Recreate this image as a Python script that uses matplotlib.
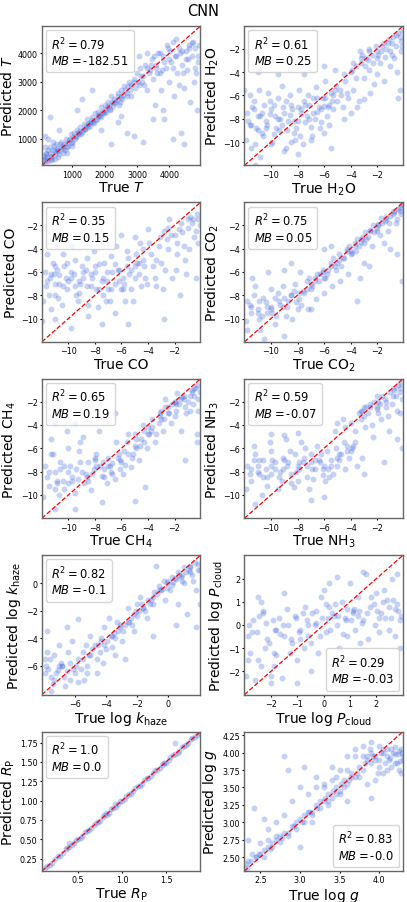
import matplotlib
matplotlib.use("Agg")
import matplotlib.pyplot as plt
from matplotlib.lines import Line2D

# ---------------- data ----------------
T_true = [150,200,250,300,350,400,450,500,550,600,650,700,750,800,850,900,950,1000,1050,1100,
          1150,1200,1250,1300,1350,1400,1450,1500,1550,1600,1650,1700,1750,1800,1850,1900,1950,2000,2050,2100,
          2150,2200,2250,2300,2400,2450,2500,2550,2600,2700,2750,2800,2900,2950,3000,3050,3100,3200,3250,3300,
          3400,3450,3500,3550,3600,3650,3700,3750,3800,3850,3900,3950,4000,4050,4100,4150,4200,4250,4300,4350,
          4400,4450,4500,4550,4600,4650,4700,4750,4800,4850,4900,
          300,150,1300,1600,2700,2900,3200,3500,4450,2200,2500,1900,3300,3050,3800,4100,2400,1150,600,250,
          120,200,350,450,550,700,150,400,850,1000,
          100,180,260,330,420,520,620,720,820,920,1020,1120,1220,1320,1420,1520,1620,1720,1820,1920,
          2020,2120,2220,2320,2420,2520,2620,2720,2820,2920,3020,3120,3220,3320,3420,3520,3620,3720,3820,3920,
          4020,4120,4220,4320,4420,4520,4620,4720,4820,4920,
          130,230,310,380,470,560,640,760,880,980,1080,1180,1280,1380,1480,1580,1680,1780,1880,1980,
          2080,2180,2280,2380,2480,2580,2680,2780,3150,3380,3580,3780,3980,4180,4380,4580,4780,4880,4700,4300]
T_pred = [300,500,200,700,400,600,300,800,550,450,900,650,800,1000,700,950,1150,900,1200,1050,
          1300,1150,1400,1250,1500,1350,1700,1500,1450,1750,1600,1900,1700,1950,1800,2100,1900,2200,1950,2300,
          2050,2500,2150,2400,2600,2200,2700,2400,2850,2600,3000,2500,3100,2800,3300,2900,3500,3200,3600,2700,
          3400,3800,3100,2200,3600,4000,3300,2700,3900,1700,3500,4200,3000,3700,4400,2500,3900,3300,4200,1200,
          3600,2800,4100,3400,4300,2300,3900,3000,4200,2000,3700,
          1750,1100,2400,2700,1200,1100,900,1700,800,800,1800,1300,4000,3900,2000,1000,1600,2000,1300,1000,
          150,350,250,550,350,500,700,900,500,750,
          250,450,600,350,750,650,800,700,850,1000,1050,1100,1250,1300,1450,1550,1650,1650,1850,1950,
          2000,2150,2300,2300,2500,2450,2700,2850,2900,3000,3000,3200,2900,3500,3600,3900,3300,4000,3700,4300,
          4100,3500,4500,4000,3300,3800,4200,4400,3300,4300,
          400,250,500,300,450,600,700,600,750,850,1000,1200,1150,1350,1400,1600,1550,1800,1750,1900,
          2100,2000,2250,2350,2300,2550,2500,2700,3000,3300,3500,3400,3800,3900,4100,3800,3500,3900,4350,2900]

H2O_true = [-11.8,-11.5,-11.3,-11.0,-10.8,-10.5,-10.3,-10.0,-9.8,-9.5,-9.3,-9.0,-8.8,-8.5,-8.3,-8.0,-7.8,-7.5,-7.3,-7.0,
            -6.8,-6.5,-6.3,-6.0,-5.8,-5.5,-5.3,-5.0,
            -11.9,-11.6,-11.2,-10.9,-10.6,-10.2,-9.9,-9.6,-9.2,-8.9,-8.6,-8.2,-7.9,-7.6,-7.2,-6.9,-6.6,-6.2,-5.9,-5.6,-5.2,
            -11.0,-9.5,-7.5,-10.8,-11.2,-8.0,-9.0,-5.5,-6.0,-5.2,-12.0,
            -4.8,-4.6,-4.4,-4.2,-4.0,-3.8,-3.6,-3.4,-3.2,-3.0,-2.8,-2.6,-2.4,-2.2,-2.0,-1.8,-1.6,-1.4,-1.2,-1.0,
            -0.8,-0.6,-0.4,-0.2,
            -4.5,-4.0,-3.5,-3.0,-2.5,-2.0,-1.5,-1.0,-0.5,-0.3,-0.7,-1.3,-1.9,-2.7,-3.3,-0.1,-0.2,-0.4,
            -11.7,-11.4,-11.1,-10.7,-10.4,-10.1,-9.7,-9.4,-9.1,-8.7,-8.4,-8.1,-7.7,-7.4,-7.1,-6.7,-6.4,-6.1,-5.7,-5.4,
            -5.1,-4.7,-4.3,-3.9,-3.6,-3.1,-2.9,-2.6,-2.3,-2.1,-1.7,-1.1,-0.9,-0.6,-0.15,-11.5,-10.0,-8.5,-7.0,-6.0,
            -11.6,-11.0,-10.4,-9.8,-9.2,-8.6,-8.0,-7.4,-6.8,-6.2,-5.6,-11.3,-10.7,-10.1,-9.5,-8.9,-8.3,-7.7,-7.1,-6.5,
            -5.9,-5.3,-4.5,-3.8,-3.2,-2.6,-2.0,-1.5,-0.9,-0.3]
H2O_pred = [-7.5,-8.5,-6.5,-9.0,-7.8,-6.8,-8.5,-7.2,-9.3,-6.2,-8.0,-7.5,-9.0,-6.8,-8.2,-7.0,-9.5,-6.5,-7.8,-8.7,
            -6.2,-7.4,-8.8,-6.9,-7.8,-5.8,-7.2,-6.5,
            -9.8,-6.0,-10.2,-5.5,-9.5,-5.8,-10.0,-8.8,-5.2,-10.5,-6.0,-9.8,-5.5,-10.2,-6.0,-9.5,-5.3,-8.3,-4.8,-8.5,-5.5,
            -4.0,-4.2,-4.2,-11.3,-12.0,-11.0,-10.8,-10.5,-3.5,-3.8,-5.5,
            -5.5,-7.0,-4.8,-6.2,-4.0,-5.5,-3.5,-6.5,-3.2,-4.5,-2.8,-3.8,-2.5,-5.0,-2.2,-3.2,-1.8,-2.7,-1.5,-2.2,
            -1.0,-1.8,-0.6,-1.3,
            -8.0,-7.5,-7.0,-6.3,-5.8,-4.2,-4.8,-3.5,-4.0,-5.5,-2.8,-2.0,-2.5,-3.0,-2.2,-0.5,-2.2,-6.2,
            -8.2,-7.0,-8.8,-7.5,-8.2,-6.5,-7.8,-9.0,-7.0,-8.2,-7.2,-8.8,-7.2,-8.3,-6.8,-8.0,-7.0,-6.2,-7.0,-6.5,
            -5.2,-6.0,-5.8,-3.8,-4.5,-2.5,-3.5,-2.2,-3.2,-1.8,-2.2,-1.2,-2.5,-0.8,-1.8,-10.5,-10.2,-10.0,-9.8,-9.2,
            -8.5,-7.8,-8.8,-6.8,-8.5,-7.7,-8.2,-6.8,-7.5,-7.2,-6.8,-7.2,-9.2,-7.6,-8.0,-6.5,-9.2,-7.5,-8.0,-6.2,
            -6.2,-6.0,-4.2,-3.2,-2.8,-2.0,-2.8,-1.5,-1.5,-1.0]

CO_true = [-11.8,-11.5,-11.2,-11.0,-10.7,-10.4,-10.1,-9.8,-9.5,-9.2,-8.9,-8.6,-8.3,-8.0,-7.7,-7.4,-7.1,-6.8,-6.5,-6.2,
           -5.9,-5.6,-5.3,-5.0,-4.7,-4.4,-4.1,
           -11.9,-11.6,-11.3,-10.9,-10.5,-10.2,-9.7,-9.3,-9.0,-8.5,-8.1,-7.8,-7.3,-6.9,-6.4,-6.0,-5.5,-5.1,-4.6,-4.2,
           -11.0,-9.8,-7.5,-5.5,-6.5,-8.5,-12.0,-4.0,-5.0,-2.8,-6.0,
           -3.8,-3.5,-3.2,-3.0,-2.8,-2.5,-2.2,-2.0,-1.8,-1.5,-1.2,-1.0,-0.8,-0.5,-0.3,-0.1,-3.4,-2.9,-2.4,-1.9,
           -1.4,-0.9,-0.4,-0.2,-1.6,-0.7,-2.6,-1.1,
           -11.7,-11.4,-11.1,-10.8,-10.3,-10.0,-9.6,-9.1,-8.7,-8.2,-7.9,-7.5,-7.2,-6.7,-6.3,-5.8,-5.4,-4.9,-4.5,-4.3,
           -3.9,-3.6,-3.1,-2.7,-2.3,-1.7,-1.3,-0.6,-0.2,-11.0,-9.4,-7.0,-5.7,-4.8,
           -11.6,-11.0,-10.4,-9.8,-9.2,-8.6,-8.0,-7.4,-6.8,-6.2,-5.6,-5.0,-4.4,-11.3,-10.7,-10.1,-9.5,-8.9,-8.3,-7.7,
           -7.1,-6.5,-5.9,-5.3,-4.7,-3.4,-2.5,-1.8,-1.0,-0.4]
CO_pred = [-6.0,-8.0,-5.2,-7.0,-6.3,-4.5,-7.5,-6.0,-5.0,-7.8,-6.5,-4.8,-7.2,-6.0,-5.3,-8.0,-6.8,-4.6,-7.0,-5.8,
           -6.5,-4.2,-7.5,-5.5,-6.2,-4.0,-7.0,
           -8.5,-4.5,-9.2,-5.8,-8.8,-6.5,-3.8,-8.5,-5.5,-8.8,-4.2,-9.0,-5.2,-8.5,-3.8,-7.5,-4.8,-8.5,-3.5,-6.5,
           -10.0,-10.8,-10.5,-10.5,-9.5,-9.8,-10.2,-2.3,-3.0,-10.0,-2.8,
           -4.5,-6.5,-3.8,-5.2,-2.5,-4.0,-6.5,-2.8,-3.5,-1.8,-5.0,-2.2,-1.3,-3.0,-1.0,-2.0,-7.2,-7.5,-1.5,-5.8,
           -2.6,-4.0,-6.5,-1.5,-8.0,-1.8,-3.2,-6.2,
           -7.2,-6.5,-6.2,-8.2,-5.5,-6.8,-6.2,-7.0,-5.8,-6.5,-7.5,-6.8,-8.5,-6.0,-5.8,-7.0,-6.2,-4.5,-7.2,-5.5,
           -3.5,-5.5,-3.0,-5.8,-2.8,-2.3,-3.8,-1.5,-3.5,-8.0,-8.0,-7.5,-8.5,-5.2,
           -6.8,-5.5,-7.2,-6.5,-6.8,-7.2,-5.5,-6.5,-7.5,-6.8,-5.5,-6.5,-5.0,-6.2,-7.0,-5.2,-7.2,-6.0,-6.2,-7.5,
           -6.0,-5.3,-7.5,-5.8,-5.2,-5.0,-2.2,-4.5,-1.5,-2.5]

CO2_true = [-11.8,-11.5,-11.2,-10.9,-10.6,-10.3,-10.0,-9.7,-9.4,-9.1,-8.8,-8.5,-8.2,-7.9,-7.6,-7.3,-7.0,-6.7,-6.4,-6.1,
            -5.8,-5.5,-5.2,-4.9,-4.6,-4.3,-4.0,-3.7,-3.4,-3.1,-2.8,-2.5,-2.2,-1.9,-1.6,-1.3,-1.0,-0.7,-0.4,-0.1,
            -11.9,-11.4,-10.8,-10.2,-9.6,-9.0,-8.4,-7.8,-7.2,-6.6,-6.0,-5.4,-4.8,-4.2,-3.6,-3.0,-2.4,-1.8,-1.2,-0.6,
            -0.2,-0.5,-1.5,-2.6,-3.3,
            -9.0,-10.5,-6.0,-5.5,-8.5,-3.5,-0.1,-1.0,-11.8,-7.0,
            -11.6,-11.0,-10.4,-9.9,-9.3,-8.7,-8.1,-7.5,-6.9,-6.3,-5.7,-5.1,-4.5,-3.9,-3.2,-2.7,-2.0,-1.4,-0.8,-0.3,
            -11.3,-10.7,-10.0,-9.5,-8.9,-8.3,-7.7,-7.1,-6.5,-5.9,-5.3,-4.7,-4.1,-3.5,-2.9,-2.3,-1.7,-1.1,-0.5,-0.15,
            -11.5,-10.9,-10.3,-9.7,-9.1,-8.5,-7.9,-7.3,-6.7,-6.1,-5.5,-4.9,-4.3,-3.7,-3.1,-2.5,-1.9,-1.3,-0.7,-0.25,
            -11.0,-10.0,-9.0,-8.0,-7.0,-6.0,-5.0,-4.0,-3.0,-2.0]
CO2_pred = [-8.5,-9.5,-7.2,-10.0,-8.2,-9.0,-7.5,-10.5,-8.5,-7.2,-9.0,-8.0,-7.0,-8.3,-7.6,-6.8,-7.5,-6.5,-6.8,-5.8,
            -6.2,-5.2,-5.5,-4.5,-4.8,-4.0,-4.2,-3.5,-3.8,-3.0,-3.2,-2.5,-2.6,-2.0,-1.8,-1.5,-1.2,-0.9,-0.6,-0.3,
            -10.2,-6.5,-11.0,-6.0,-9.8,-5.8,-10.0,-6.0,-9.2,-8.3,-7.8,-7.2,-6.8,-6.2,-4.2,-5.2,-3.8,-2.8,-2.5,-1.8,
            -1.0,-4.5,-3.5,-5.5,-6.5,
            -11.5,-11.8,-4.0,-3.8,-5.2,-8.5,-6.8,-4.0,-11.0,-9.2,
            -8.8,-9.2,-8.6,-9.5,-8.8,-8.5,-8.6,-7.8,-7.2,-6.2,-5.8,-5.8,-4.8,-4.4,-3.4,-3.0,-2.2,-1.6,-1.0,-0.5,
            -8.0,-9.8,-9.2,-7.8,-9.8,-7.6,-8.8,-6.5,-6.2,-6.5,-4.8,-5.5,-3.8,-3.2,-2.6,-2.0,-1.4,-1.8,-1.5,-0.2,
            -9.0,-8.5,-9.5,-8.2,-9.0,-8.0,-7.8,-7.5,-6.8,-6.0,-5.5,-5.0,-4.2,-3.8,-3.2,-2.4,-1.9,-1.3,-0.8,-0.8,
            -9.5,-9.0,-8.2,-9.2,-7.0,-6.5,-5.2,-4.5,-3.5,-2.5]

CH4_true = [-11.8,-11.5,-11.2,-10.9,-10.6,-10.3,-10.0,-9.7,-9.4,-9.1,-8.8,-8.5,-8.2,-7.9,-7.6,-7.3,-7.0,-6.7,-6.4,-6.1,
            -5.8,-5.5,-5.2,-4.9,-4.6,-4.3,-4.0,-3.7,-3.4,-3.1,-2.8,-2.5,-2.2,-1.9,-1.6,-1.3,-1.0,-0.7,-0.4,-0.1,
            -11.9,-11.3,-10.7,-10.1,-9.5,-8.9,-8.3,-7.7,-7.1,-6.5,-5.9,-5.3,-4.7,-4.1,-3.5,-2.9,-2.3,-1.7,-1.1,-0.5,
            -0.3,-0.8,-1.5,-2.0,-2.7,
            -11.0,-9.5,-7.5,-5.0,-11.0,-9.5,-6.5,-0.3,-1.2,-4.2,
            -11.6,-11.0,-10.4,-9.9,-9.3,-8.7,-8.1,-7.5,-6.9,-6.3,-5.7,-5.1,-4.5,-3.9,-3.2,-2.7,-2.0,-1.4,-0.8,-0.3,
            -11.3,-10.6,-10.0,-9.2,-8.6,-8.0,-7.4,-6.8,-6.2,-5.6,-5.0,-4.4,-3.8,-3.0,-2.4,-1.8,-1.2,-0.6,-0.2,-0.5,
            -11.5,-10.9,-10.3,-9.7,-9.1,-8.5,-7.9,-7.3,-6.7,-6.1,-5.5,-4.9,-4.3,-3.7,-3.1,-2.5,-1.9,-1.3,-0.7,-0.25,
            -11.0,-10.0,-9.0,-8.0,-7.0,-6.0,-5.0,-4.0,-3.0,-2.0]
CH4_pred = [-7.5,-9.2,-6.5,-8.8,-7.2,-9.5,-6.0,-8.5,-7.8,-5.5,-9.0,-7.2,-8.2,-6.5,-7.5,-8.5,-6.8,-7.3,-5.5,-7.8,
            -6.2,-4.8,-6.8,-5.2,-5.8,-4.5,-4.2,-3.5,-4.8,-3.0,-3.5,-2.5,-2.2,-2.8,-1.8,-1.5,-2.0,-1.2,-0.8,-1.2,
            -10.2,-5.2,-10.0,-4.5,-9.8,-5.0,-9.6,-4.5,-9.0,-8.6,-8.2,-7.6,-7.0,-6.0,-5.5,-4.5,-3.8,-2.2,-3.0,-1.5,
            -4.8,-2.8,-4.5,-3.2,-1.8,
            -11.2,-11.2,-10.6,-10.5,-3.8,-3.8,-3.0,-5.5,-7.0,-9.3,
            -8.5,-8.0,-8.8,-7.5,-8.6,-8.2,-7.8,-8.4,-7.5,-6.8,-7.4,-6.5,-5.2,-4.8,-3.8,-2.5,-2.0,-1.6,-1.5,-0.6,
            -6.5,-7.8,-9.0,-6.2,-8.5,-6.8,-7.2,-8.0,-6.5,-5.5,-4.8,-4.0,-4.5,-2.8,-3.0,-1.3,-2.5,-2.2,-2.8,-0.8,
            -8.0,-9.0,-7.5,-8.8,-7.2,-8.8,-7.5,-7.8,-8.2,-7.0,-6.5,-6.0,-5.5,-4.2,-3.2,-3.0,-2.2,-1.8,-1.0,-1.8,
            -9.5,-8.0,-8.0,-7.0,-7.5,-7.2,-5.8,-4.8,-3.5,-2.0]

NH3_true = [-11.8,-11.5,-11.2,-10.9,-10.6,-10.3,-10.0,-9.7,-9.4,-9.1,-8.8,-8.5,-8.2,-7.9,-7.6,-7.3,-7.0,-6.7,-6.4,-6.1,
            -5.8,-5.5,-5.2,-4.9,-4.6,-4.3,-4.0,-3.7,-3.4,-3.1,-2.8,-2.5,-2.2,-1.9,-1.6,-1.3,-1.0,-0.7,-0.4,-0.1,
            -11.9,-11.3,-10.7,-10.1,-9.5,-8.9,-8.3,-7.7,-7.1,-6.5,-5.9,-5.3,-4.7,-4.1,-3.5,-2.9,-2.3,-1.7,-1.1,-0.5,
            -0.3,-0.9,-2.0,-3.2,-4.4,
            -11.2,-10.0,-9.0,-8.0,-7.0,-6.0,-3.0,-1.5,-0.1,-5.0,
            -11.6,-11.0,-10.4,-9.9,-9.3,-8.7,-8.1,-7.5,-6.9,-6.3,-5.7,-5.1,-4.5,-3.9,-3.2,-2.7,-2.0,-1.4,-0.8,-0.3,
            -11.3,-10.6,-10.0,-9.2,-8.6,-8.0,-7.4,-6.8,-6.2,-5.6,-5.0,-4.4,-3.8,-3.0,-2.4,-1.8,-1.2,-0.6,-0.2,-0.5,
            -11.5,-10.9,-10.3,-9.7,-9.1,-8.5,-7.9,-7.3,-6.7,-6.1,-5.5,-4.9,-4.3,-3.7,-3.1,-2.5,-1.9,-1.3,-0.7,-0.25,
            -11.0,-10.0,-9.0,-8.0,-7.0,-6.0,-5.0,-4.0,-3.0,-2.0]
NH3_pred = [-7.5,-8.8,-6.5,-8.2,-7.0,-9.2,-6.2,-7.8,-8.5,-6.8,-7.5,-9.0,-6.5,-7.8,-7.2,-8.5,-6.5,-7.8,-7.0,-8.3,
            -6.2,-7.5,-4.5,-7.0,-3.5,-6.2,-3.8,-5.5,-3.0,-6.8,-2.5,-2.2,-2.0,-3.0,-1.5,-2.5,-1.2,-0.8,-0.6,-1.8,
            -9.5,-5.8,-10.0,-5.5,-9.5,-5.2,-9.3,-5.5,-9.5,-5.8,-8.8,-8.2,-6.5,-6.8,-7.5,-4.2,-5.0,-3.5,-4.5,-5.2,
            -3.0,-2.2,-1.5,-2.8,-7.8,
            -10.8,-4.8,-4.9,-4.7,-10.4,-10.2,-8.2,-7.2,-6.0,-3.8,
            -8.2,-7.5,-7.8,-7.0,-8.0,-7.2,-8.0,-6.8,-7.8,-7.2,-7.8,-6.0,-5.5,-6.0,-3.5,-3.0,-2.5,-1.8,-1.5,-0.8,
            -7.0,-8.5,-7.5,-8.8,-6.2,-8.8,-6.0,-8.6,-6.5,-8.5,-7.5,-4.2,-5.8,-2.5,-4.0,-2.2,-3.2,-1.5,-0.4,-2.8,
            -7.8,-7.0,-8.5,-7.2,-7.8,-8.2,-7.2,-7.5,-7.0,-7.8,-7.0,-6.5,-5.8,-4.5,-2.8,-2.5,-2.0,-2.0,-1.0,-1.2,
            -8.0,-8.2,-7.0,-7.5,-7.2,-7.5,-6.8,-6.2,-3.2,-2.6]

khaze_true = [-7.9,-7.6,-7.3,-7.0,-6.7,-6.4,-6.1,-5.8,-5.5,-5.2,-4.9,-4.6,-4.3,-4.0,-3.7,-3.4,-3.1,-2.8,-2.5,-2.2,
              -1.9,-1.6,-1.3,-1.0,-0.7,-0.4,-0.1,0.2,0.5,0.8,1.1,1.4,1.7,2.0,
              -7.8,-7.4,-7.0,-6.6,-6.2,-5.8,-5.4,-5.0,-4.6,-4.2,-3.8,-3.4,-3.0,-2.6,-2.2,-1.8,-1.4,-1.0,-0.6,-0.2,
              0.2,0.6,1.0,1.4,1.8,
              -7.8,-6.5,-5.8,-2.8,-1.0,0.5,1.2,1.8,2.0,-0.8,-7.5,
              -7.7,-7.2,-6.9,-6.5,-6.0,-5.6,-5.1,-4.7,-4.4,-3.9,-3.5,-3.2,-2.9,-2.4,-2.0,-1.7,-1.2,-0.9,-0.5,-0.3,
              0.0,0.3,0.7,0.9,1.3,1.5,1.9,-7.9,-6.8,-5.3,-4.1,-3.6,-2.3,-1.5,0.1,1.0,
              -7.85,-7.5,-7.1,-6.8,-6.3,-5.9,-5.5,-5.0,-4.5,-4.1,-3.6,-3.1,-2.6,-2.1,-1.6,-1.1,-0.6,-0.1,0.4,0.9,
              1.4,1.9,-7.3,-6.3,-5.2,-4.3,-3.3,-2.0,0.6,1.6]
khaze_pred = [-6.5,-5.5,-7.0,-6.0,-6.8,-5.0,-6.2,-7.2,-5.5,-6.0,-4.8,-5.5,-4.2,-4.8,-3.8,-4.0,-3.2,-3.0,-2.8,-2.2,
              -2.0,-1.8,-1.2,-1.0,-0.8,-0.4,0.0,-0.1,0.3,0.5,0.8,1.2,1.5,1.0,
              -5.0,-7.3,-4.5,-7.5,-4.2,-5.5,-7.0,-3.8,-6.5,-5.8,-2.5,-5.2,-4.2,-1.8,-3.5,-1.0,-2.5,-1.5,-0.2,-1.2,
              0.5,-1.5,0.0,0.8,-0.5,
              -3.5,-3.2,-2.6,-5.5,-3.8,-3.0,-2.2,-3.2,-1.5,1.3,-7.8,
              -6.2,-6.5,-5.8,-6.4,-6.5,-6.2,-5.2,-4.5,-5.0,-4.2,-3.6,-3.5,-3.5,-2.5,-2.4,-1.5,-1.5,-0.6,-0.5,0.2,
              0.2,0.1,0.6,0.2,1.0,0.6,1.4,-5.5,-6.0,-4.5,-3.2,-4.6,-3.0,-2.0,-0.5,1.2,
              -6.0,-6.8,-6.3,-6.0,-5.8,-6.0,-5.0,-5.2,-4.5,-4.5,-3.8,-3.0,-2.8,-2.0,-1.8,-1.2,-0.5,-0.3,0.4,0.6,
              1.3,1.0,-5.2,-7.0,-6.5,-4.0,-2.8,-1.5,0.8,0.2]

Pcloud_true = [-2.9,-2.7,-2.5,-2.3,-2.1,-1.9,-1.7,-1.5,-1.3,-1.1,-0.9,-0.7,-0.5,-0.3,-0.1,0.1,0.3,0.5,0.7,0.9,
               1.1,1.3,1.5,1.7,1.9,2.1,2.3,2.5,2.7,2.9,
               -2.95,-2.6,-2.4,-2.0,-1.8,-1.4,-1.0,-0.6,-0.2,0.2,0.6,1.0,1.4,1.8,2.2,2.6,2.9,-2.8,-2.2,-1.6,
               -0.8,0.0,0.8,1.6,2.4,
               -1.5,-2.5,0.5,1.5,-1.0,2.8,2.2,-0.5,-2.0,0.2,
               -2.85,-2.55,-2.25,-1.95,-1.65,-1.35,-1.05,-0.75,-0.45,-0.15,0.15,0.45,0.75,1.05,1.35,1.65,1.95,2.25,2.55,2.85,
               -2.4,-1.2,-0.3,0.4,1.2,2.0,2.7,-1.8,0.9,2.5,
               -2.75,-2.45,-2.15,-1.85,-1.55,-1.25,-0.95,-0.65,-0.35,-0.05,0.25,0.55,0.85,1.15,1.45,1.75,2.05,2.35,2.65,2.95,
               -2.9,-1.9,-0.9,0.1,1.1,2.1,-2.3,-0.6,1.3,2.8]
Pcloud_pred = [-0.5,0.2,-1.5,0.5,-0.8,-1.8,0.3,-0.5,-1.2,0.4,-0.2,0.8,-0.8,0.1,1.2,-0.3,0.5,0.0,1.0,-0.5,
               0.6,1.2,0.2,-0.6,0.9,0.3,1.5,-0.2,0.7,0.2,
               -2.2,-2.4,1.0,-2.2,-0.2,0.7,-1.5,-0.5,-1.2,0.8,-1.0,1.8,-0.8,1.2,0.5,2.0,-1.0,-1.2,0.1,-2.3,
               0.5,1.5,0.3,2.2,1.1,
               1.4,1.2,2.1,2.3,-2.5,2.2,-1.5,-2.0,-2.5,1.8,
               0.0,-0.3,-1.0,0.2,-0.4,0.0,0.3,-1.0,0.5,-0.5,0.3,0.9,-0.4,0.2,0.6,0.5,0.0,1.0,0.3,0.6,
               -1.8,-0.8,0.6,0.4,-0.2,1.4,-0.5,-1.3,0.7,0.8,
               -0.3,0.4,-0.6,-0.2,0.0,-0.6,-0.3,0.2,0.0,0.3,-0.2,0.4,0.2,0.7,0.1,0.8,0.6,0.3,1.1,0.4,
               -1.5,-1.2,-0.6,0.9,0.5,-0.3,0.6,0.0,0.4,0.9]

Rp_true = [0.12,0.18,0.24,0.30,0.36,0.40,0.45,0.50,0.55,0.60,0.65,0.70,0.75,0.80,0.85,0.90,0.95,1.00,1.05,1.10,
           1.15,1.20,1.25,1.30,1.35,1.40,1.45,1.50,1.55,1.60,1.65,1.70,1.75,1.80,1.85,
           0.15,0.21,0.27,0.33,0.38,0.43,0.48,0.53,0.58,0.63,0.68,0.73,0.78,0.83,0.88,0.93,0.98,1.03,1.08,1.13,
           1.18,1.23,1.28,1.33,1.38,1.43,1.48,1.53,1.58,1.63,1.68,1.73,1.78,1.83,1.87,
           0.40,1.60,1.48,0.92,0.82]
Rp_pred = [0.13,0.17,0.25,0.29,0.37,0.40,0.45,0.51,0.54,0.61,0.64,0.71,0.74,0.81,0.84,0.91,0.96,0.99,1.06,1.09,
           1.16,1.19,1.26,1.29,1.36,1.39,1.46,1.49,1.56,1.60,1.64,1.71,1.74,1.81,1.85,
           0.16,0.20,0.28,0.32,0.39,0.42,0.49,0.52,0.59,0.62,0.69,0.72,0.79,0.82,0.89,0.92,0.99,1.02,1.09,1.12,
           1.19,1.22,1.29,1.32,1.39,1.42,1.49,1.52,1.59,1.62,1.69,1.72,1.79,1.82,1.87,
           0.45,1.74,1.48,0.96,0.84]

logg_true = [2.32,2.38,2.45,2.50,2.55,2.60,2.65,2.70,2.75,2.80,2.85,2.90,2.95,3.00,3.05,3.10,3.15,3.20,3.25,3.30,
             3.35,3.40,3.45,3.50,3.55,3.60,3.65,3.70,3.75,3.80,3.85,3.90,3.95,4.00,4.05,4.10,4.15,4.20,4.25,4.30,
             2.40,2.50,2.60,2.70,2.80,2.90,3.00,3.10,3.20,3.30,3.40,3.50,3.60,3.70,3.80,3.90,4.00,4.10,4.20,4.25,
             4.15,4.05,3.95,3.85,
             2.42,2.55,2.80,2.85,3.05,3.35,3.00,3.60,3.90,4.28,2.35,3.15,
             2.35,2.45,2.55,2.65,2.75,2.85,2.95,3.05,3.15,3.25,3.35,3.45,3.55,3.65,3.75,3.85,3.95,4.05,4.12,4.18,
             4.22,4.27,4.30,3.30,3.45,3.60,3.70,3.80,3.90,4.00,
             2.33,2.48,2.62,2.78,2.92,3.02,3.12,3.22,3.32,3.42,3.52,3.62,3.72,3.82,3.92,4.02,4.08,4.14,4.20,4.26,
             4.29,4.10,3.98,3.88,3.50,3.40,3.20,2.70,2.60,4.24]
logg_pred = [2.40,2.45,2.50,2.55,2.50,2.65,2.70,2.75,2.72,2.85,2.80,2.95,2.90,3.05,3.00,3.15,3.10,3.25,3.20,3.30,
             3.40,3.35,3.50,3.45,3.60,3.55,3.70,3.65,3.80,3.75,3.90,3.85,3.95,3.90,4.00,3.95,4.05,3.98,4.02,3.95,
             2.55,2.70,2.90,3.00,3.10,3.30,3.50,3.40,3.65,3.55,3.80,3.75,3.95,4.05,4.10,4.15,4.10,4.05,3.85,3.75,
             3.80,3.70,3.60,3.55,
             3.20,3.05,3.95,3.75,3.80,3.25,2.65,3.30,3.35,3.70,2.75,3.00,
             2.45,2.50,2.60,2.65,2.80,2.85,3.00,3.10,3.15,3.30,3.30,3.40,3.50,3.65,3.65,3.95,3.90,4.05,3.90,4.00,
             3.85,4.05,3.90,3.50,3.65,3.75,3.95,3.95,4.00,3.80,
             2.35,2.55,2.62,2.78,2.95,3.00,3.15,3.20,3.35,3.45,3.55,3.60,3.70,3.85,3.95,4.00,3.85,3.92,4.08,3.88,
             4.00,3.75,3.70,4.05,3.40,3.60,3.50,2.80,2.75,3.98]

r2_vals = ["0.79", "0.61", "0.35", "0.75", "0.65", "0.59", "0.82", "0.29", "1.0", "0.83"]
mb_vals = ["-182.51", "0.25", "0.15", "0.05", "0.19", "-0.07", "-0.1", "-0.03", "0.0", "-0.0"]
names = [r"$T$", r"H$_2$O", "CO", r"CO$_2$", r"CH$_4$", r"NH$_3$",
         r"log $k_{\rm haze}$", r"log $P_{\rm cloud}$", r"$R_{\rm P}$", r"log $g$"]

panels = [(T_true, T_pred), (H2O_true, H2O_pred), (CO_true, CO_pred), (CO2_true, CO2_pred),
          (CH4_true, CH4_pred), (NH3_true, NH3_pred), (khaze_true, khaze_pred),
          (Pcloud_true, Pcloud_pred), (Rp_true, Rp_pred), (logg_true, logg_pred)]

# ---------------- styling / layout ----------------
limits = [(60, 4960), (-12.0, -0.05), (-12.0, -0.05), (-12.0, -0.05), (-12.0, -0.05), (-12.0, -0.05),
          (-8.1, 2.05), (-3.02, 3.02), (0.09, 1.89), (2.3, 4.3)]
xticks = [[1000, 2000, 3000, 4000], [-10, -8, -6, -4, -2], [-10, -8, -6, -4, -2], [-10, -8, -6, -4, -2],
          [-10, -8, -6, -4, -2], [-10, -8, -6, -4, -2], [-6, -4, -2, 0], [-2, -1, 0, 1, 2],
          [0.5, 1.0, 1.5], [2.5, 3.0, 3.5, 4.0]]
yticks = [[1000, 2000, 3000, 4000], [-10, -8, -6, -4, -2], [-10, -8, -6, -4, -2], [-10, -8, -6, -4, -2],
          [-10, -8, -6, -4, -2], [-10, -8, -6, -4, -2], [-6, -4, -2, 0], [-2, -1, 0, 1, 2],
          [0.25, 0.5, 0.75, 1.0, 1.25, 1.5, 1.75], [2.5, 2.75, 3.0, 3.25, 3.5, 3.75, 4.0, 4.25]]
box_loc = ["upper left"] * 7 + ["lower right", "upper left", "lower right"]

fig, axes = plt.subplots(5, 2, figsize=(4.07, 9.03), dpi=100)
fig.subplots_adjust(left=0.103, right=0.990, top=0.970, bottom=0.0343, wspace=0.278, hspace=0.266)

for i, ax in enumerate(axes.flat):
    xt, yp = panels[i]
    lo, hi = limits[i]
    ax.scatter(xt, yp, s=18, color="royalblue", alpha=0.3, linewidths=0)
    ax.plot([lo, hi], [lo, hi], "r--", lw=0.9)
    ax.set_xlim(lo, hi)
    ax.set_ylim(lo, hi)
    ax.set_xticks(xticks[i])
    ax.set_yticks(yticks[i])
    if i == 8:
        ax.set_xticklabels(["0.5", "1.0", "1.5"])
        ax.set_yticklabels(["0.25", "0.50", "0.75", "1.00", "1.25", "1.50", "1.75"])
    if i == 9:
        ax.set_xticklabels(["2.5", "3.0", "3.5", "4.0"])
        ax.set_yticklabels(["2.50", "2.75", "3.00", "3.25", "3.50", "3.75", "4.00", "4.25"])
    ax.tick_params(labelsize=5.8, length=1.6, width=0.8, pad=1.5)
    ax.set_xlabel("True " + names[i], fontsize=10, labelpad=1)
    ax.set_ylabel("Predicted " + names[i], fontsize=10, labelpad=2)
    for sp in ax.spines.values():
        sp.set_color("#666666")
        sp.set_linewidth(1.0)
    h = [Line2D([], [], linestyle="none"), Line2D([], [], linestyle="none")]
    ax.legend(h, [r"$R^2 = $" + r2_vals[i], r"$MB = $" + mb_vals[i]], loc=box_loc[i],
              handlelength=0, handletextpad=0, fontsize=8.3, borderaxespad=0.35,
              borderpad=0.45, labelspacing=0.2, framealpha=0.8)

fig.suptitle("CNN", fontsize=10.5, y=0.996)
fig.savefig("out.png", dpi=100)
